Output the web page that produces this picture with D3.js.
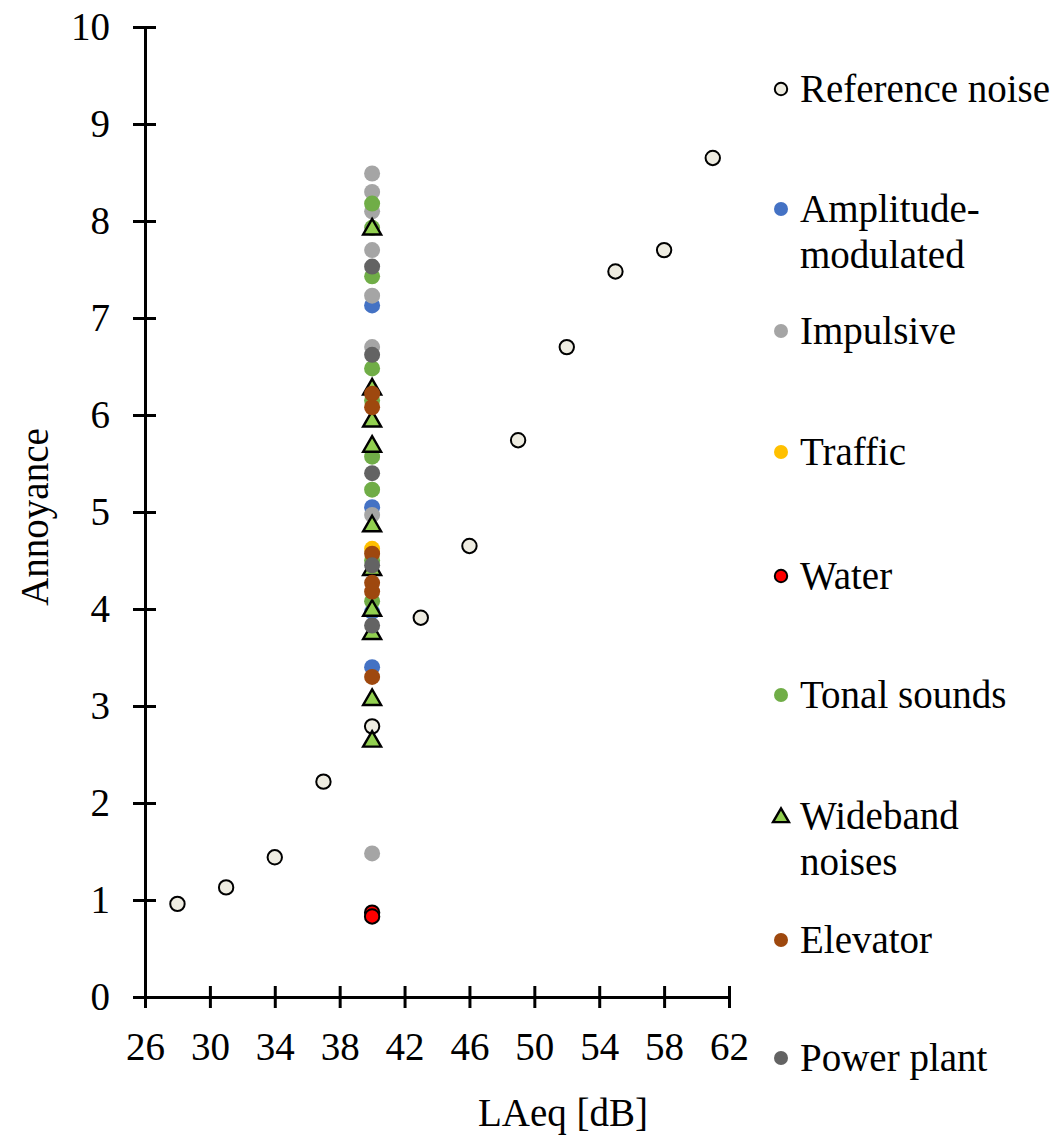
<!DOCTYPE html>
<html><head><meta charset="utf-8">
<script src="https://cdn.jsdelivr.net/npm/d3@7"></script>
<style>body{margin:0;background:#fff}svg{display:block}</style>
</head><body><svg id="c" width="1060" height="1136"></svg>
<script>
const xTicks = [26,30,34,38,42,46,50,54,58,62];
const yTicks = [0,1,2,3,4,5,6,7,8,9,10];
const refX = [28,31,34,37,40,43,46,49,52,55,58,61];
const refY = [0.96,1.13,1.44,2.22,2.79,3.91,4.65,5.74,6.70,7.48,7.70,8.65];
const amY = [7.13,5.05,3.97,3.40];
const impY = [8.49,8.30,8.10,7.70,7.23,6.70,4.97,1.48];
const trafficY = [4.62];
const waterY = [0.87,0.83];
const tonalY = [8.18,7.93,7.43,6.48,6.15,5.57,5.23,4.50,4.08];
const widebandY = [7.93,6.28,5.95,5.69,4.87,4.42,4.00,3.76,3.08,2.65];
const elevatorY = [6.22,6.08,4.57,4.27,4.18,3.30];
const powerY = [7.53,6.62,5.40,4.45,3.83];
const testLevel = 40;
const seriesNames = ["Reference noise","Amplitude-|modulated","Impulsive","Traffic","Water","Tonal sounds","Wideband|noises","Elevator","Power plant"];

const FONT = '"Liberation Serif","Times New Roman",Times,serif';
const FS = "39px";

const series = [
  {name:seriesNames[0], pts: refX.map((x,i)=>[x,refY[i]]), fill:"#EEECE1", stroke:"#000", shape:"circle"},
  {name:seriesNames[1], pts: amY.map(y=>[testLevel,y]), fill:"#4472C4", stroke:null, shape:"circle"},
  {name:seriesNames[2], pts: impY.map(y=>[testLevel,y]), fill:"#A5A5A5", stroke:null, shape:"circle"},
  {name:seriesNames[3], pts: trafficY.map(y=>[testLevel,y]), fill:"#FFC000", stroke:null, shape:"circle"},
  {name:seriesNames[4], pts: waterY.map(y=>[testLevel,y]), fill:"#FF0000", stroke:"#000", shape:"circle"},
  {name:seriesNames[5], pts: tonalY.map(y=>[testLevel,y]), fill:"#70AD47", stroke:null, shape:"circle"},
  {name:seriesNames[6], pts: widebandY.map(y=>[testLevel,y]), fill:"#92D050", stroke:"#000", shape:"triangle"},
  {name:seriesNames[7], pts: elevatorY.map(y=>[testLevel,y]), fill:"#9E480E", stroke:null, shape:"circle"},
  {name:seriesNames[8], pts: powerY.map(y=>[testLevel,y]), fill:"#636363", stroke:null, shape:"circle"}
];

const svg = d3.select("#c");
const x = d3.scaleLinear().domain([26,62]).range([145,729]);
const y = d3.scaleLinear().domain([0,10]).range([997,27]);

// axes
const xAxis = svg.append("g").attr("transform","translate(0,997)")
  .call(d3.axisBottom(x).tickValues(xTicks).tickSize(11).tickSizeOuter(0).tickPadding(24));
xAxis.select(".domain").attr("stroke","#000").attr("stroke-width",3);
xAxis.selectAll(".tick line").attr("stroke","#000").attr("stroke-width",3).attr("y1",-11);
xAxis.selectAll(".tick text").style("font-size",FS).style("font-family",FONT).attr("fill","#000");

const yAxis = svg.append("g").attr("transform","translate(145,0)")
  .call(d3.axisLeft(y).tickValues(yTicks).tickSize(12).tickSizeOuter(0).tickPadding(23));
yAxis.select(".domain").attr("stroke","#000").attr("stroke-width",3);
yAxis.selectAll(".tick line").attr("stroke","#000").attr("stroke-width",3).attr("x1",11);
yAxis.selectAll(".tick text").style("font-size",FS).style("font-family",FONT).attr("fill","#000");

svg.append("text").attr("x",563).attr("y",1126).attr("text-anchor","middle")
  .style("font-size",FS).style("font-family",FONT).text("LAeq [dB]");
svg.append("text").attr("transform","translate(48,517) rotate(-90)").attr("text-anchor","middle")
  .style("font-size",FS).style("font-family",FONT).text("Annoyance");

const tri = d3.symbol().type(d3.symbolTriangle);
function drawMarker(g, s, cx, cy, r, triSize){
  if(s.shape==="circle"){
    g.append("circle").attr("cx",cx).attr("cy",cy).attr("r",s.stroke ? r-0.8 : r)
      .attr("fill",s.fill).attr("stroke",s.stroke||"none").attr("stroke-width",s.stroke?2:0);
  } else {
    g.append("path").attr("d",tri.size(triSize)())
      .attr("transform",`translate(${cx},${cy+1.5})`)
      .attr("fill",s.fill).attr("stroke",s.stroke).attr("stroke-width",2.4);
  }
}

const plot = svg.append("g");
series.forEach(s=>{
  s.pts.forEach(p=>drawMarker(plot, s, x(p[0]), y(p[1]), 8, 140));
});

// legend
const legY = [89,209,331,452,576,695,816,940,1058];
const leg = svg.append("g");
series.forEach((s,i)=>{
  drawMarker(leg, s, 781, legY[i], 7, 110);
  const lines = s.name.split("|");
  lines.forEach((ln,j)=>{
    leg.append("text").attr("x",800).attr("y",legY[i]+13+j*46)
      .style("font-size",FS).style("font-family",FONT).text(ln);
  });
});
</script></body></html>
